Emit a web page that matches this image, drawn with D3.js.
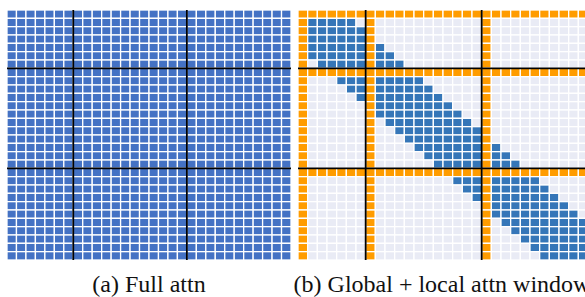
<!DOCTYPE html>
<html>
<head>
<meta charset="utf-8">
<script src="https://cdn.jsdelivr.net/npm/d3@7.9.0/dist/d3.min.js"></script>
<style>
  html, body { margin: 0; padding: 0; background: #fff; }
  svg { display: block; }
  .caption { font-family: "Liberation Serif", "DejaVu Serif", serif; font-size: 24px; fill: #111; }
</style>
</head>
<body>
<svg id="chart" width="585" height="297"></svg>
<script>
// Token positions (rows = queries, cols = keys)
const tokens = d3.range(30);
// Global tokens attend / are attended by everything
const globalTokens = [0, 7, 19];
// Section dividers (black lines) before these tokens
const dividers = [7, 19];
// Local attention window per row: first and last key index
const localLo = [0, 0, 0, 0, 0, 1, 2, 3, 4, 5, 6, 7, 8, 9, 10, 11, 12, 13, 14, 15, 16, 17, 18, 19, 20, 21, 22, 23, 24, 25];
const localHi = [4, 5, 6, 7, 8, 9, 10, 11, 12, 13, 14, 15, 16, 17, 18, 19, 20, 21, 22, 23, 24, 25, 26, 27, 28, 29, 29, 29, 29, 29];
const captions = ["(a) Full attn", "(b) Global + local attn window"];

const colors = { full: "#4472c4", local: "#3576b8", global: "#ff9c00", none: "#e9ebf5" };

const svg = d3.select("#chart");

// Panel boxes
const panels = [
  { x0: 7, x1: 291, y0: 10, y1: 260, kind: "full" },
  { x0: 298, x1: 588, y0: 10, y1: 260, kind: "sparse" }
];

function cellColor(kind, r, c) {
  if (kind === "full") return colors.full;
  if (globalTokens.includes(r) || globalTokens.includes(c)) return colors.global;
  if (c >= localLo[r] && c <= localHi[r]) return colors.local;
  return colors.none;
}

panels.forEach((p, pi) => {
  const x = d3.scaleBand().domain(tokens).range([p.x0, p.x1]);
  const y = d3.scaleBand().domain(tokens).range([p.y0, p.y1]);
  const g = svg.append("g");

  const cells = [];
  tokens.forEach(r => tokens.forEach(c => cells.push({ r, c })));

  g.selectAll("rect")
    .data(cells)
    .join("rect")
    .attr("x", d => x(d.c))
    .attr("y", d => y(d.r))
    .attr("width", x.bandwidth())
    .attr("height", y.bandwidth())
    .attr("fill", d => cellColor(p.kind, d.r, d.c))
    .attr("stroke", "#fff")
    .attr("stroke-width", 1.3);

  // divider lines
  dividers.forEach(k => {
    g.append("line")
      .attr("x1", x(k)).attr("x2", x(k))
      .attr("y1", p.y0).attr("y2", p.y1)
      .attr("stroke", "#000").attr("stroke-width", 1.8);
    g.append("line")
      .attr("x1", p.x0).attr("x2", p.x1)
      .attr("y1", y(k)).attr("y2", y(k))
      .attr("stroke", "#000").attr("stroke-width", 1.8);
  });

  svg.append("text")
    .attr("class", "caption")
    .attr("x", (p.x0 + p.x1) / 2 - (pi === 1 ? 1 : 0))
    .attr("y", 292)
    .attr("text-anchor", "middle")
    .text(captions[pi]);
});
</script>
</body>
</html>
